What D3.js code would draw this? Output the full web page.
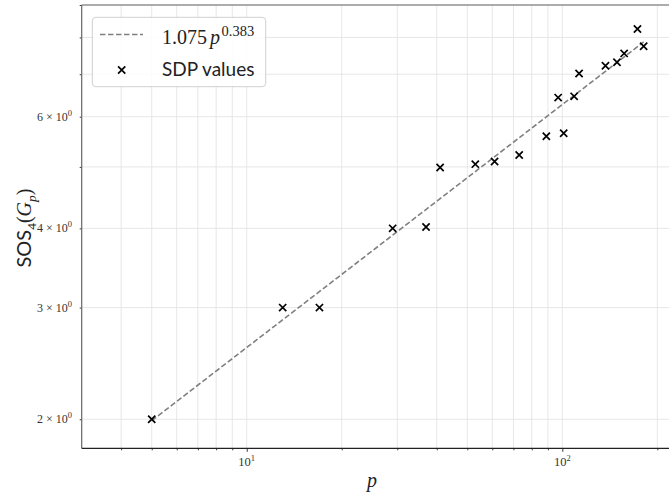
<!DOCTYPE html>
<html>
<head>
<meta charset="utf-8">
<script src="https://cdnjs.cloudflare.com/ajax/libs/d3/7.8.5/d3.min.js"></script>
<style>
  body { margin: 0; background: #fff; }
  svg { display: block; }
  .serif { font-family: "Liberation Serif", "DejaVu Serif", serif; }
  .sans { font-family: Lato, "DejaVu Sans", sans-serif; }
</style>
</head>
<body>
<div class="chart"></div>
<script>
// primes p = 1 mod 4 and the SDP values
var pValues = [5, 13, 17, 29, 37, 41, 53, 61, 73, 89, 97, 101, 109, 113, 137, 149, 157, 173, 181];
var sdpValues = [2.0, 3.0, 3.0, 4.0, 4.02, 4.99, 5.05, 5.1, 5.22, 5.59, 6.43, 5.65, 6.46, 7.02, 7.22, 7.31, 7.55, 8.25, 7.75];

// fitted curve 1.075 p^0.383, endpoints (straight in log-log)
var fitP = [5, 181];
var fitValues = [1.99, 7.87];

var xMajorTicks = [10, 100];
var xMinorTicks = [4, 5, 6, 7, 8, 9, 20, 30, 40, 50, 60, 70, 80, 90, 200];
var yTicks = [2, 3, 4, 5, 6, 7, 8, 9];
var yLabelled = [2, 3, 4, 6];

var svgWidth = 669, svgHeight = 492;
var plotLeft = 81.7, plotTop = 5, plotBottom = 448.3;
var decade = 315.6;

var svg = d3.select(".chart").append("svg")
  .attr("width", svgWidth)
  .attr("height", svgHeight);

// x domain runs past the right edge (figure is cropped there)
var xScale = d3.scaleLog().domain([3, 240]).range([plotLeft, plotLeft + Math.log10(240 / 3) * decade]);
var yScale = d3.scaleLog().domain([1.8, 9]).range([plotBottom, plotTop]);

var plotRight = xScale(240);

// grid
var grid = svg.append("g");
grid.selectAll(".vgrid")
  .data(xMajorTicks.concat(xMinorTicks))
  .enter().append("line")
  .attr("x1", function(d) { return xScale(d); })
  .attr("x2", function(d) { return xScale(d); })
  .attr("y1", plotTop)
  .attr("y2", plotBottom)
  .attr("stroke", "#e4e4e4")
  .attr("stroke-width", 0.9);
grid.selectAll(".hgrid")
  .data(yTicks)
  .enter().append("line")
  .attr("x1", plotLeft)
  .attr("x2", plotRight)
  .attr("y1", function(d) { return yScale(d); })
  .attr("y2", function(d) { return yScale(d); })
  .attr("stroke", "#e4e4e4")
  .attr("stroke-width", 0.9);

// bottom axis: major ticks with 10^n labels, minor ticks unlabeled
var xAxisMajor = d3.axisBottom(xScale).tickValues(xMajorTicks).tickSize(3.5).tickFormat("");
var xAxisMinor = d3.axisBottom(xScale).tickValues(xMinorTicks).tickSize(2).tickFormat("");
[xAxisMajor, xAxisMinor].forEach(function(ax) {
  var g = svg.append("g").attr("transform", "translate(0," + plotBottom + ")").call(ax);
  g.select(".domain").remove();
  g.selectAll(".tick line").attr("stroke", "#222").attr("stroke-width", 0.9);
});

var xLabels = svg.append("g").attr("class", "serif");
xMajorTicks.forEach(function(t) {
  var txt = xLabels.append("text")
    .attr("x", xScale(t))
    .attr("y", 466)
    .attr("text-anchor", "middle")
    .attr("font-size", 12.5)
    .attr("fill", "#333");
  txt.append("tspan").text("10");
  txt.append("tspan").attr("dy", -5).attr("font-size", 8.5).text(String(Math.round(Math.log10(t))));
});

// left axis: ticks at 2..9, labels only at 2, 3, 4, 6
var yAxis = d3.axisLeft(yScale).tickValues(yTicks).tickSize(2).tickFormat("");
var yg = svg.append("g").attr("transform", "translate(" + plotLeft + ",0)").call(yAxis);
yg.select(".domain").remove();
yg.selectAll(".tick line").attr("stroke", "#222").attr("stroke-width", 0.9);

var yLabels = svg.append("g").attr("class", "serif");
yLabelled.forEach(function(t) {
  var txt = yLabels.append("text")
    .attr("x", 72)
    .attr("y", yScale(t) + 4)
    .attr("text-anchor", "end")
    .attr("font-size", 12)
    .attr("fill", "#333");
  txt.append("tspan").text(t + " \u00d7 10");
  txt.append("tspan").attr("dy", -5).attr("font-size", 8.5).text("0");
});

// spines
svg.append("line").attr("x1", plotLeft).attr("x2", plotRight).attr("y1", plotTop).attr("y2", plotTop)
  .attr("stroke", "#666").attr("stroke-width", 1.2);
svg.append("line").attr("x1", plotLeft).attr("x2", plotLeft).attr("y1", plotTop).attr("y2", plotBottom)
  .attr("stroke", "#666").attr("stroke-width", 1.2);
svg.append("line").attr("x1", plotLeft).attr("x2", plotRight).attr("y1", plotBottom).attr("y2", plotBottom)
  .attr("stroke", "#222").attr("stroke-width", 1.2);

// fit line
var line = d3.line()
  .x(function(d) { return xScale(d[0]); })
  .y(function(d) { return yScale(d[1]); });
svg.append("path")
  .datum(d3.zip(fitP, fitValues))
  .attr("d", line)
  .attr("fill", "none")
  .attr("stroke", "#808080")
  .attr("stroke-width", 1.6)
  .attr("stroke-dasharray", "5.5,2.5");

// markers
var cross = "M-3.6,-3.6L3.6,3.6M-3.6,3.6L3.6,-3.6";
svg.append("g").selectAll("path")
  .data(d3.zip(pValues, sdpValues))
  .enter().append("path")
  .attr("transform", function(d) { return "translate(" + xScale(d[0]) + "," + yScale(d[1]) + ")"; })
  .attr("d", cross)
  .attr("fill", "none")
  .attr("stroke", "#000")
  .attr("stroke-width", 1.7);

// legend
var legend = svg.append("g");
legend.append("rect")
  .attr("x", 92.3).attr("y", 17.3)
  .attr("width", 173.4).attr("height", 69.4)
  .attr("rx", 3.5)
  .attr("fill", "#fff").attr("fill-opacity", 0.85)
  .attr("stroke", "#d0d0d0").attr("stroke-width", 1);
legend.append("line")
  .attr("x1", 100).attr("x2", 143).attr("y1", 34.5).attr("y2", 34.5)
  .attr("stroke", "#808080").attr("stroke-width", 1.6)
  .attr("stroke-dasharray", "5.5,2.5");
legend.append("path")
  .attr("transform", "translate(121.7,70)")
  .attr("d", cross)
  .attr("fill", "none").attr("stroke", "#000").attr("stroke-width", 1.7);
var fitLabel = legend.append("text")
  .attr("class", "serif")
  .attr("x", 162).attr("y", 43.5)
  .attr("font-size", 20).attr("fill", "#222");
fitLabel.append("tspan").text("1.075");
fitLabel.append("tspan").attr("dx", 3).attr("font-style", "italic").text("p");
fitLabel.append("tspan").attr("dx", 1.5).attr("dy", -8).attr("font-size", 14.5).text("0.383");
legend.append("text")
  .attr("class", "sans")
  .attr("x", 162).attr("y", 76)
  .attr("font-size", 19).attr("fill", "#222")
  .text("SDP values");

// axis titles
svg.append("text")
  .attr("class", "serif")
  .attr("x", 372).attr("y", 487)
  .attr("text-anchor", "middle")
  .attr("font-size", 20).attr("font-style", "italic").attr("fill", "#222")
  .text("p");

var yTitle = svg.append("text")
  .attr("transform", "translate(31,228) rotate(-90)")
  .attr("text-anchor", "middle")
  .attr("font-size", 20).attr("fill", "#222");
yTitle.append("tspan").attr("class", "sans").text("SOS");
yTitle.append("tspan").attr("class", "serif").attr("dy", 4.5).attr("font-size", 13.5).text("4");
yTitle.append("tspan").attr("class", "serif").attr("dy", -4.5).text("(");
yTitle.append("tspan").attr("class", "serif").attr("font-style", "italic").text("G");
yTitle.append("tspan").attr("class", "serif").attr("font-style", "italic").attr("dy", 4.5).attr("font-size", 13.5).text("p");
yTitle.append("tspan").attr("class", "serif").attr("dy", -4.5).text(")");
</script>
</body>
</html>
